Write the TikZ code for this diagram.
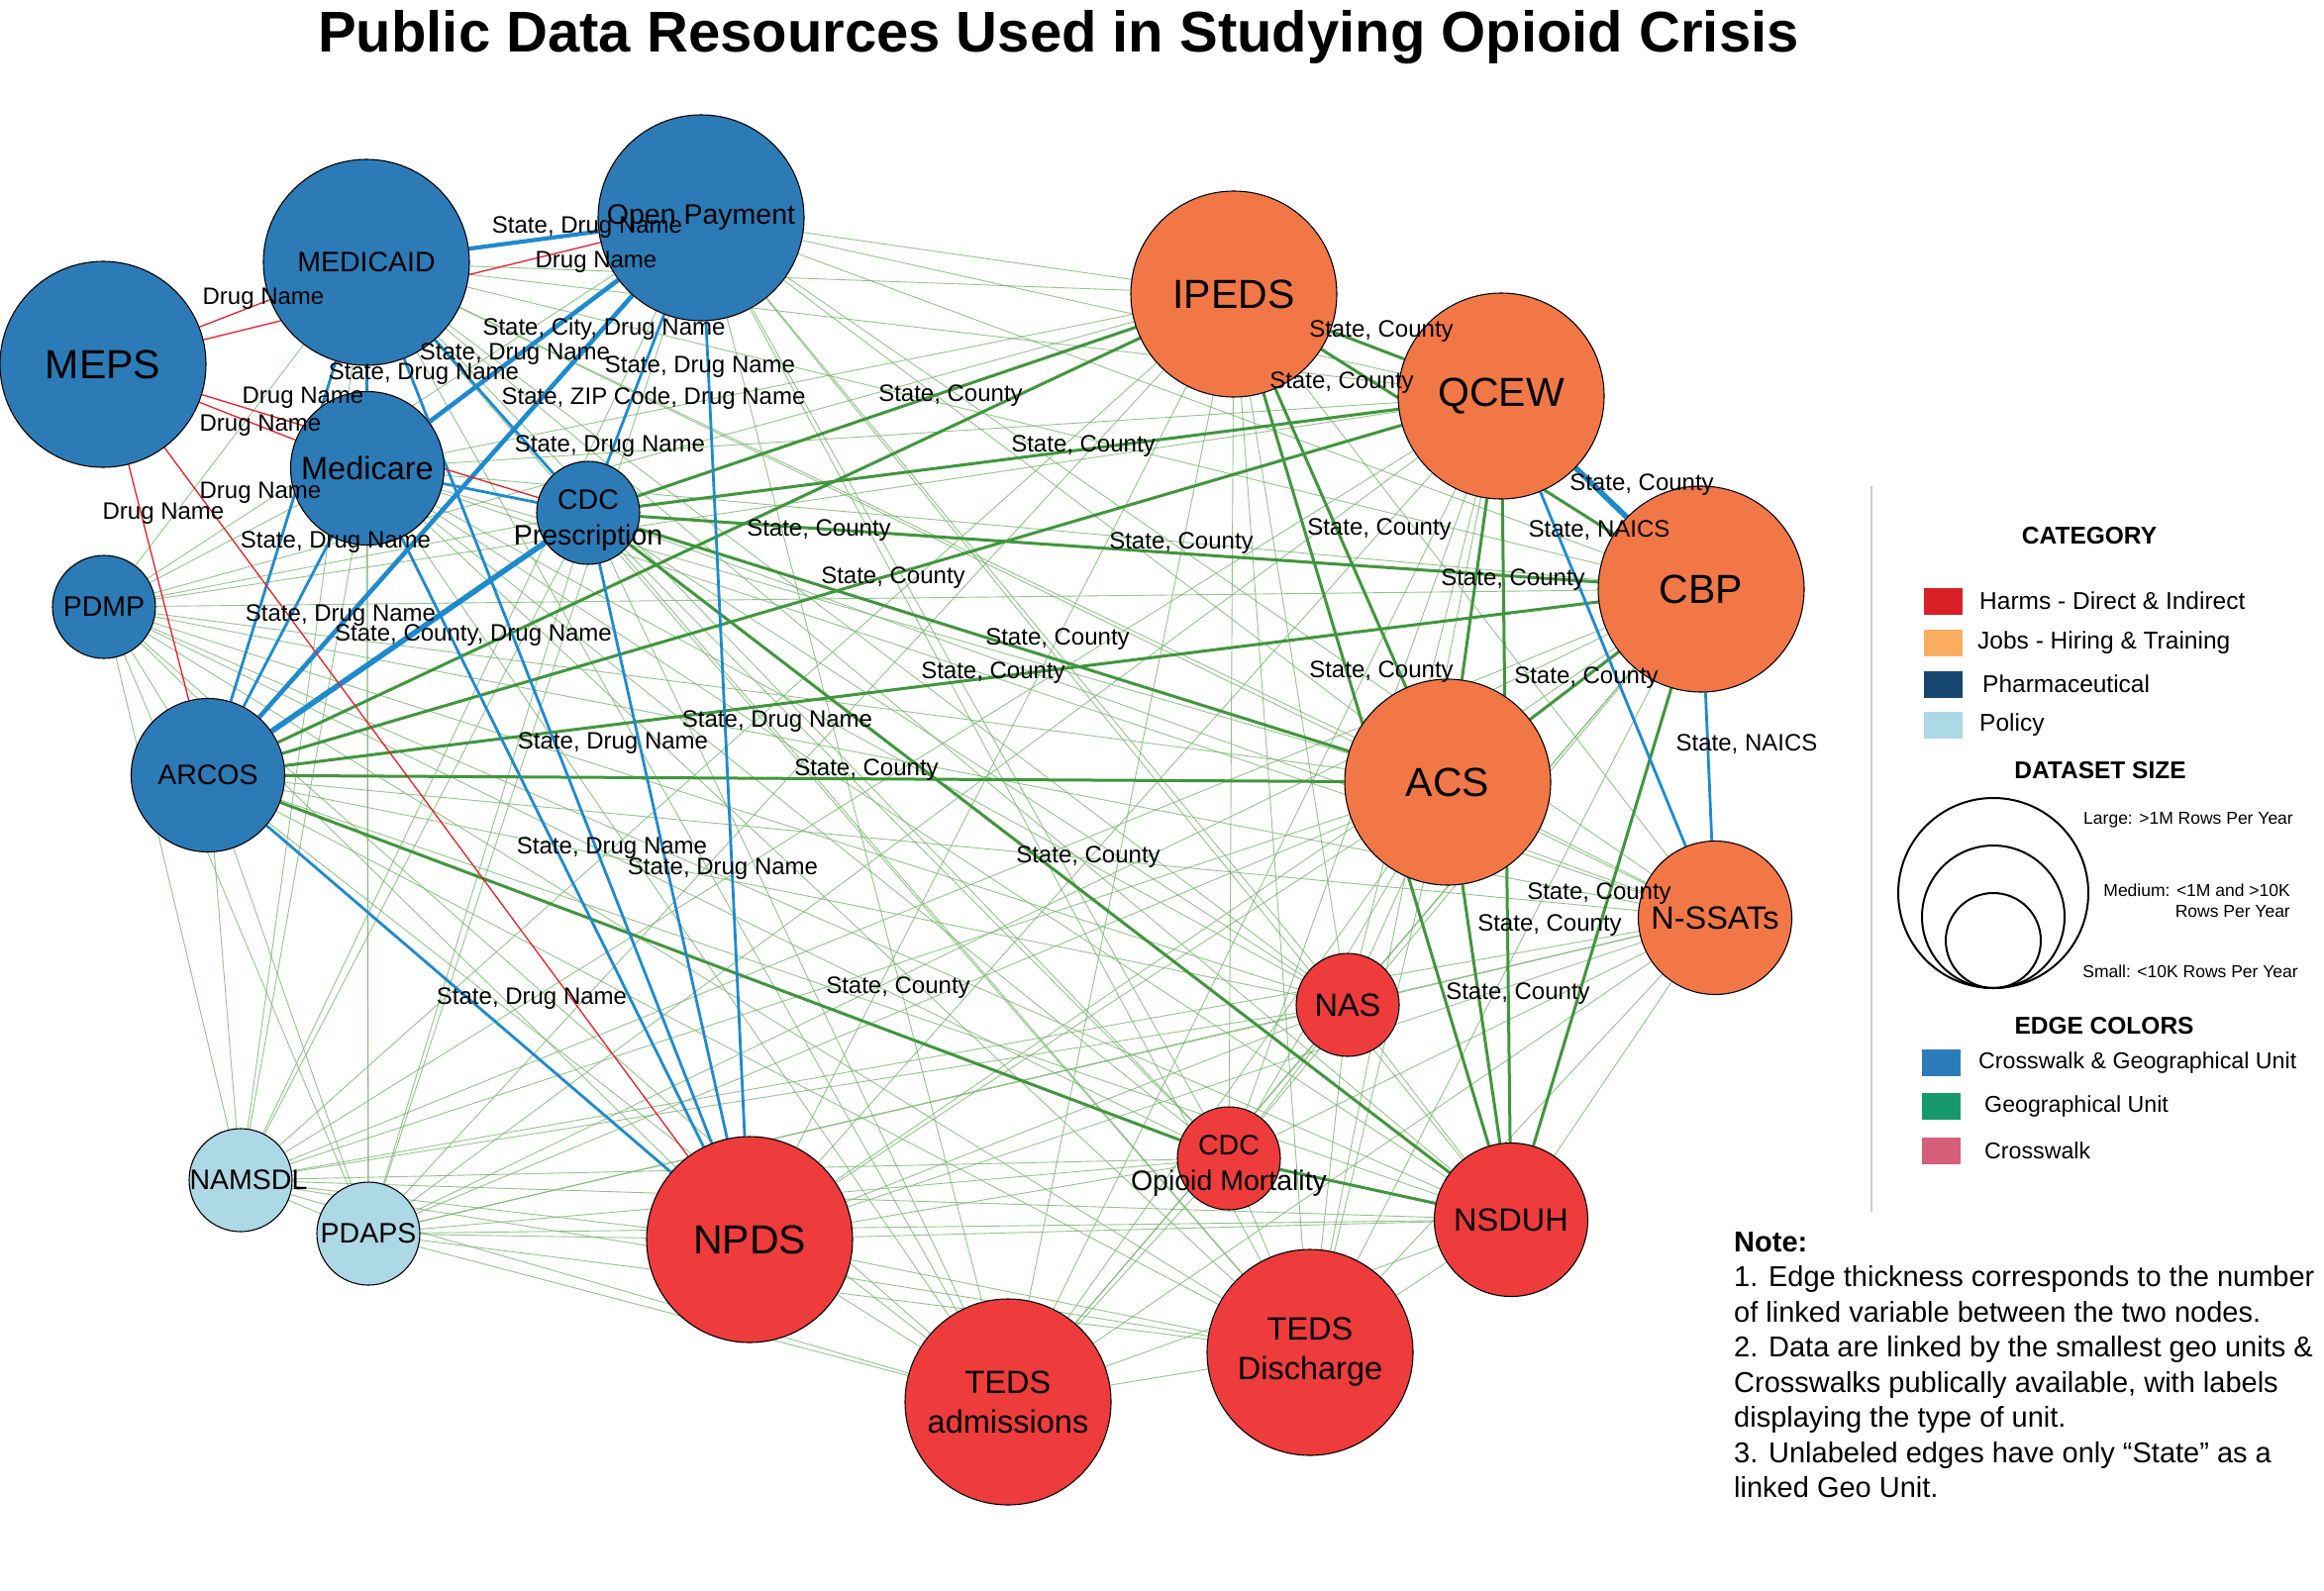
\documentclass[tikz,border=0pt]{standalone}
\usepackage{fontspec}
\setmainfont{Liberation Sans}
\usetikzlibrary{backgrounds}

\definecolor{pharmablue}{RGB}{44,123,182}
\definecolor{jobsorange}{RGB}{242,119,70}
\definecolor{harmsred}{RGB}{238,59,59}
\definecolor{policyblue}{RGB}{173,216,230}
\definecolor{stategreen}{RGB}{118,182,108}
\definecolor{countygreen}{RGB}{64,150,60}
\definecolor{walkblue}{RGB}{30,138,206}
\definecolor{walkred}{RGB}{232,30,40}
\definecolor{keyred}{RGB}{218,31,38}
\definecolor{keyorange}{RGB}{249,173,96}
\definecolor{keynavy}{RGB}{21,71,113}
\definecolor{keyblue}{RGB}{43,123,186}
\definecolor{keygreen}{RGB}{22,154,108}
\definecolor{keypink}{RGB}{214,95,122}

\tikzset{
  dataset/.style={circle, draw=black, line width=1.1pt, inner sep=0pt, align=center, text=black},
  bigset/.style={dataset, minimum size=208pt},
  midset/.style={dataset, minimum size=155pt},
  smallset/.style={dataset, minimum size=104pt},
  namebig/.style={font=\fontsize{41}{49}\selectfont},
  namemid/.style={font=\fontsize{32.5}{40}\selectfont},
  namesmall/.style={font=\fontsize{28.5}{36}\selectfont},
  stateedge/.style={draw=stategreen, line width=0.9pt, opacity=0.8},
  countyedge/.style={draw=countygreen, line width=3pt},
  walkgeo/.style={draw=walkblue, line width=2.8pt},
  walkonly/.style={draw=walkred, line width=1.3pt},
  edgelabel/.style={font=\fontsize{24}{28}\selectfont, inner sep=0pt},
  keyhead/.style={font=\bfseries\fontsize{24.5}{28}\selectfont, inner sep=0pt},
  keytext/.style={font=\fontsize{24.5}{28}\selectfont, inner sep=0pt, anchor=west},
  sizetext/.style={font=\fontsize{17.5}{21}\selectfont, inner sep=0pt},
  keybox/.style={minimum width=39pt, minimum height=27pt, inner sep=0pt}
}

\def\geolist{medicaid,openpay,medicare,cdcrx,pdmp,arcos,ipeds,qcew,cbp,acs,nssats,nas,cdcom,nsduh,npds,tedsa,tedsd,namsdl,pdaps}

\begin{document}
\begin{tikzpicture}[x=1pt,y=-1pt]
\useasboundingbox (0,0) rectangle (2347,1606);

% Title
\node[font=\bfseries\fontsize{58}{66}\selectfont, anchor=base, inner sep=0pt] (title) at (1069,52) {Public Data Resources Used in Studying Opioid Crisis};

% Pharmaceutical datasets
\node[bigset, fill=pharmablue, namebig] (meps) at (104,368) {MEPS};
\node[bigset, fill=pharmablue, namesmall] (medicaid) at (370,265) {MEDICAID};
\node[bigset, fill=pharmablue, namesmall] (openpay) at (708,220) {Open Payment};
\node[midset, fill=pharmablue, namemid] (medicare) at (371,473) {Medicare};
\node[smallset, fill=pharmablue, label={[namesmall, align=center, yshift=-8pt]center:{CDC\\Prescription}}] (cdcrx) at (594,518) {};
\node[smallset, fill=pharmablue, namesmall] (pdmp) at (105,613) {PDMP};
\node[midset, fill=pharmablue, namesmall] (arcos) at (210,783) {ARCOS};

% Jobs datasets
\node[bigset, fill=jobsorange, namebig] (ipeds) at (1246,297) {IPEDS};
\node[bigset, fill=jobsorange, namebig] (qcew) at (1516,400) {QCEW};
\node[bigset, fill=jobsorange, namebig] (cbp) at (1718,595) {CBP};
\node[bigset, fill=jobsorange, namebig] (acs) at (1462,790) {ACS};
\node[midset, fill=jobsorange, namemid] (nssats) at (1732,927) {N-SSATs};

% Harms datasets
\node[smallset, fill=harmsred, namemid] (nas) at (1361,1015) {NAS};
\node[smallset, fill=harmsred, label={[namesmall, align=center, yshift=-7pt]center:{CDC\\Opioid Mortality}}] (cdcom) at (1241,1170) {};
\node[midset, fill=harmsred, namemid] (nsduh) at (1526,1232) {NSDUH};
\node[bigset, fill=harmsred, namebig] (npds) at (757,1252) {NPDS};
\node[bigset, fill=harmsred, namemid] (tedsa) at (1018,1416) {TEDS\\admissions};
\node[bigset, fill=harmsred, namemid] (tedsd) at (1323,1366) {TEDS\\Discharge};

% Policy datasets
\node[smallset, fill=policyblue, label={[namesmall, xshift=8pt]center:NAMSDL}] (namsdl) at (243,1192) {};
\node[smallset, fill=policyblue, namesmall] (pdaps) at (372,1246) {PDAPS};

\begin{scope}[on background layer]
% State only (unlabeled)
\foreach \a [count=\i] in \geolist {
  \foreach \b [count=\j] in \geolist {
    \ifnum\j>\i \draw[stateedge] (\a) -- (\b); \fi
  }
}

% State, County
\foreach \a/\b in {ipeds/qcew, ipeds/cbp, ipeds/cdcrx, ipeds/arcos, ipeds/acs, ipeds/nsduh,
  qcew/cdcrx, qcew/arcos, qcew/acs, qcew/nsduh, cbp/arcos, cbp/cdcrx, cbp/acs, cbp/nsduh,
  acs/arcos, acs/cdcrx, acs/nsduh, cdcrx/nsduh, arcos/cdcom, cdcom/nsduh}
  \draw[countyedge] (\a) -- (\b);

% Crosswalk & geographical unit
\foreach \a/\b in {medicaid/medicare, medicaid/cdcrx, medicaid/arcos, medicaid/npds,
  openpay/cdcrx, openpay/npds, medicare/cdcrx, medicare/arcos, medicare/npds,
  cdcrx/npds, arcos/npds, qcew/nssats, cbp/nssats}
  \draw[walkgeo] (\a) -- (\b);
\draw[walkgeo, line width=4.2pt] (medicaid) -- (openpay);
\draw[walkgeo, line width=4.6pt] (openpay) -- (medicare);
\draw[walkgeo, line width=4.6pt] (openpay) -- (arcos);
\draw[walkgeo, line width=5.6pt] (cdcrx) -- (arcos);
\draw[walkgeo, line width=5.6pt] (qcew) -- (cbp);

% Crosswalk only
\foreach \b in {medicaid, openpay, medicare, cdcrx, arcos, npds}
  \draw[walkonly] (meps) -- (\b);
\end{scope}

% Edge labels
\foreach \p [count=\k] in {(266,302), (602,265), (306,402), (263,430), (263,498), (165,519)}
  \node[edgelabel] (dn\k) at \p {Drug Name};
\foreach \p [count=\k] in {(593,230), (520,358), (428,378), (707,371), (616,451), (339,548),
  (344,622), (785,729), (619,751), (618,857), (730,878), (537,1009)}
  \node[edgelabel] (sdn\k) at \p {State, Drug Name};
\node[edgelabel] (scdn) at (610,332) {State, City, Drug Name};
\node[edgelabel] (szdn) at (660,402) {State, ZIP Code, Drug Name};
\node[edgelabel] (sccdn) at (478,642) {State, County, Drug Name};
\foreach \p [count=\k] in {(1395,335), (1355,387), (960,400), (1094,451), (1658,490), (827,536),
  (1393,535), (1193,549), (902,584), (1528,586), (1068,646), (1395,679), (1003,680), (1602,685),
  (875,778), (1099,866), (1615,903), (1565,935), (907,998), (1533,1004)}
  \node[edgelabel] (sc\k) at \p {State, County};
\node[edgelabel] (sn1) at (1615,536) {State, NAICS};
\node[edgelabel] (sn2) at (1764,752) {State, NAICS};

% Legend
\draw[black!20, line width=1.5pt] (1890,491) -- (1890,1224);
\node[keyhead] (cathead) at (2110,541) {CATEGORY};
\node[keybox, fill=keyred] (kharms) at (1962,607) {};
\node[keytext] (tharms) at (1999,607) {Harms - Direct \& Indirect};
\node[keybox, fill=keyorange] (kjobs) at (1962,649) {};
\node[keytext] (tjobs) at (1997,649) {Jobs - Hiring \& Training};
\node[keybox, fill=keynavy] (kpharma) at (1962,691) {};
\node[keytext] (tpharma) at (2002,691) {Pharmaceutical};
\node[keybox, fill=policyblue] (kpolicy) at (1962,732) {};
\node[keytext] (tpolicy) at (1999,732) {Policy};

\node[keyhead] (sizehead) at (2121,778) {DATASET SIZE};
\draw[line width=2pt] (2013,902) circle (96);
\draw[line width=2pt] (2013,926) circle (72);
\draw[line width=2pt] (2013,950) circle (48);
\node[sizetext] (slarge) at (2210,828) {Large: >1M Rows Per Year};
\node[sizetext, align=right, anchor=east] (smedium) at (2313,910) {Medium: <1M and >10K\\Rows Per Year};
\node[sizetext] (ssmall) at (2212,981) {Small: <10K Rows Per Year};

\node[keyhead] (edgehead) at (2125,1036) {EDGE COLORS};
\node[keybox, fill=keyblue] (kwalkgeo) at (1960,1073) {};
\node[keytext, font=\fontsize{23.2}{28}\selectfont] (twalkgeo) at (1998,1073) {Crosswalk \& Geographical Unit};
\node[keybox, fill=keygreen] (kgeo) at (1960,1117) {};
\node[keytext, font=\fontsize{23.2}{28}\selectfont] (tgeo) at (2004,1117) {Geographical Unit};
\node[keybox, fill=keypink] (kwalk) at (1960,1162) {};
\node[keytext, font=\fontsize{23.2}{28}\selectfont] (twalk) at (2004,1162) {Crosswalk};

% Note
\node[anchor=north west, align=left, inner sep=0pt, font=\fontsize{29}{35.5}\selectfont] (note) at (1751,1244)
  {\textbf{Note:}\\
   1. Edge thickness corresponds to the number\\
   of linked variable between the two nodes.\\
   2. Data are linked by the smallest geo units \&\\
   Crosswalks publically available, with labels\\
   displaying the type of unit.\\
   3. Unlabeled edges have only “State” as a\\
   linked Geo Unit.};

\end{tikzpicture}
\end{document}
